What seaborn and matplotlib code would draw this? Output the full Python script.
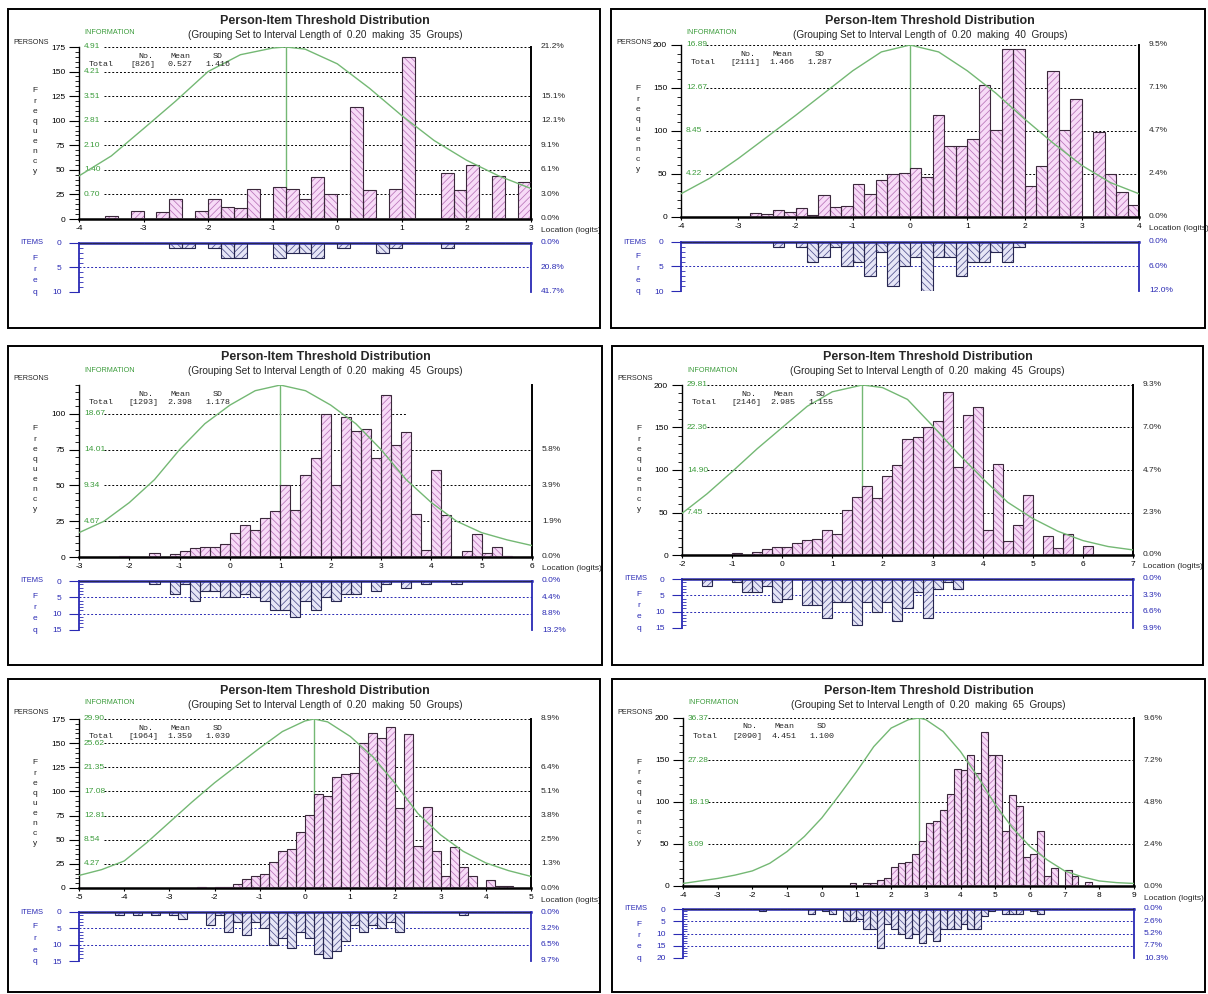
import numpy as np
import pandas as pd
import matplotlib
matplotlib.use("Agg")
import matplotlib.pyplot as plt
from matplotlib.patches import Rectangle
from matplotlib.ticker import MultipleLocator
import seaborn as sns

# ---------------------------------------------------------------- data
BIN_WIDTH = 0.20

# Panel 1
P1_START = -4.0
P1_PERSONS = [0, 0, 3, 0, 8, 0, 7, 20, 0, 8, 20, 12, 11, 31, 0, 33, 31, 20, 43, 25,
              0, 114, 30, 0, 31, 165, 0, 0, 47, 30, 55, 0, 44, 0, 38]
P1_ITEMS = [0, 0, 0, 0, 0, 0, 0, 1, 1, 0, 1, 3, 3, 0, 0, 3, 2, 2, 3, 0,
            1, 0, 0, 2, 1, 0, 0, 0, 1, 0, 0, 0, 0, 0, 0]
P1_INFO_X = [-4.0, -3.5, -3.0, -2.5, -2.0, -1.5, -1.0, -0.8, -0.5, 0.0, 0.5, 1.0, 1.5, 2.0, 2.5, 3.0]
P1_INFO = [1.23, 1.80, 2.58, 3.37, 4.21, 4.69, 4.88, 4.91, 4.85, 4.43, 3.73, 2.95, 2.24, 1.68, 1.23, 0.87]
P1_STATS = (826, "0.527", "1.416")
P1_COUNT_TICKS = [0, 25, 50, 75, 100, 125, 150, 175]
P1_INFO_TICKS = [0.70, 1.40, 2.10, 2.81, 3.51, 4.21, 4.91]
P1_PCT_TICKS = [0, 25, 50, 75, 100, 125, 175]
P1_ITEM_TICKS = [0, 5, 10]
P1_TOP = 175

# Panel 2
P2_START = -4.0
P2_PERSONS = [0, 0, 0, 0, 0, 0, 5, 3, 8, 6, 10, 2, 25, 12, 13, 38, 27, 43, 50, 51,
              57, 47, 119, 82, 82, 91, 154, 101, 195, 195, 36, 59, 170, 101, 137, 0, 99, 50, 29, 14]
P2_ITEMS = [0, 0, 0, 0, 0, 0, 0, 0, 1, 0, 1, 4, 3, 1, 5, 4, 7, 2, 9, 5,
            3, 10, 3, 3, 7, 4, 4, 2, 4, 1, 0, 0, 0, 0, 0, 0, 0, 0, 0, 0]
P2_INFO_X = [-4.0, -3.5, -3.0, -2.5, -2.0, -1.5, -1.0, -0.5, 0.0, 0.5, 1.0, 1.5, 2.0, 2.5, 3.0, 3.5, 4.0]
P2_INFO = [2.28, 3.80, 5.74, 7.85, 9.97, 12.16, 14.36, 16.21, 16.89, 16.21, 14.36, 12.16, 9.63, 7.26, 5.07, 3.38, 2.28]
P2_STATS = (2111, "1.466", "1.287")
P2_COUNT_TICKS = [0, 50, 100, 150, 200]
P2_INFO_TICKS = [4.22, 8.45, 12.67, 16.89]
P2_PCT_TICKS = [0, 50, 100, 150, 200]
P2_ITEM_TICKS = [0, 5, 10]
P2_TOP = 200

# Panel 3
P3_START = -3.0
P3_PERSONS = [0, 0, 0, 0, 1, 0, 0, 3, 0, 2, 4, 6, 7, 7, 9, 17, 22, 19, 27, 32,
              50, 33, 57, 69, 100, 50, 98, 88, 89, 69, 113, 78, 87, 30, 5, 61, 29, 0, 4, 16,
              3, 7, 1, 0, 0]
P3_ITEMS = [0, 0, 0, 0, 0, 0, 0, 1, 0, 4, 1, 6, 3, 3, 5, 5, 4, 5, 6, 9,
            9, 11, 6, 9, 5, 6, 4, 4, 0, 3, 1, 0, 2, 0, 1, 0, 0, 1, 0, 0,
            0, 0, 0, 0, 0]
P3_INFO_X = [-3.0, -2.5, -2.0, -1.5, -1.0, -0.5, 0.0, 0.5, 1.0, 1.5, 2.0, 2.5, 3.0, 3.5, 4.0, 4.5, 5.0, 5.5, 6.0]
P3_INFO = [3.17, 4.67, 7.09, 10.08, 14.00, 17.36, 19.79, 21.66, 22.40, 21.66, 19.79, 17.36, 14.00, 10.08, 7.09, 4.67, 3.17, 2.24, 1.49]
P3_STATS = (1293, "2.398", "1.178")
P3_COUNT_TICKS = [0, 25, 50, 75, 100]
P3_INFO_TICKS = [4.67, 9.34, 14.01, 18.67]
P3_PCT_TICKS = [0, 25, 50, 75]
P3_ITEM_TICKS = [0, 5, 10, 15]
P3_TOP = 120

# Panel 4
P4_START = -2.0
P4_PERSONS = [0, 0, 0, 0, 0, 2, 0, 3, 7, 10, 9, 14, 18, 19, 29, 25, 53, 68, 81, 67,
              93, 106, 136, 139, 150, 158, 192, 103, 165, 174, 30, 107, 16, 35, 71, 0, 22, 8, 25, 0,
              11, 0, 0, 0, 0]
P4_ITEMS = [0, 0, 2, 0, 0, 1, 4, 4, 2, 7, 6, 0, 8, 8, 12, 7, 7, 14, 7, 10,
            7, 13, 9, 4, 12, 3, 1, 3, 0, 0, 0, 0, 0, 0, 0, 0, 0, 0, 0, 0,
            0, 0, 0, 0, 0]
P4_INFO_X = [-2.0, -1.5, -1.0, -0.5, 0.0, 0.5, 1.0, 1.6, 2.0, 2.5, 3.0, 3.5, 4.0, 4.5, 5.0, 5.5, 6.0, 6.5, 7.0]
P4_INFO = [7.30, 10.73, 14.61, 18.63, 22.36, 26.08, 28.62, 29.81, 29.36, 27.28, 22.66, 17.89, 13.41, 9.24, 6.41, 4.17, 2.53, 1.49, 0.89]
P4_STATS = (2146, "2.985", "1.155")
P4_COUNT_TICKS = [0, 50, 100, 150, 200]
P4_INFO_TICKS = [7.45, 14.90, 22.36, 29.81]
P4_PCT_TICKS = [0, 50, 100, 150, 200]
P4_ITEM_TICKS = [0, 5, 10, 15]
P4_TOP = 200

# Panel 5
P5_START = -5.0
P5_PERSONS = [0, 0, 0, 0, 0, 0, 0, 0, 0, 0, 0, 0, 0, 1, 0, 1, 1, 4, 9, 12,
              14, 27, 38, 40, 58, 76, 97, 95, 115, 118, 119, 150, 160, 155, 167, 83, 159, 43, 84, 38,
              12, 42, 22, 12, 0, 8, 2, 2, 0, 0]
P5_ITEMS = [0, 0, 0, 0, 1, 0, 1, 0, 1, 0, 1, 2, 0, 0, 4, 1, 6, 3, 7, 3,
            5, 10, 8, 11, 6, 8, 13, 14, 12, 9, 4, 6, 4, 5, 3, 6, 0, 0, 0, 0,
            0, 0, 1, 0, 0, 0, 0, 0, 0, 0]
P5_INFO_X = [-5.0, -4.5, -4.0, -3.5, -3.0, -2.5, -2.0, -1.5, -1.0, -0.5, 0.0, 0.2, 0.5, 1.0, 1.5, 2.0, 2.5, 3.0, 3.5, 4.0, 4.5, 5.0]
P5_INFO = [2.22, 3.25, 4.78, 8.03, 11.62, 15.21, 18.62, 21.70, 24.77, 27.68, 29.56, 29.90, 29.39, 26.82, 23.24, 18.45, 13.16, 9.40, 6.49, 4.44, 3.08, 2.05]
P5_STATS = (1964, "1.359", "1.039")
P5_COUNT_TICKS = [0, 25, 50, 75, 100, 125, 150, 175]
P5_INFO_TICKS = [4.27, 8.54, 12.81, 17.08, 21.35, 25.62, 29.90]
P5_PCT_TICKS = [0, 25, 50, 75, 100, 125, 175]
P5_ITEM_TICKS = [0, 5, 10, 15]
P5_TOP = 175

# Panel 6
P6_START = -4.0
P6_PERSONS = [0] * 24 + [3, 0, 4, 3, 7, 10, 23, 27, 28, 38, 54, 75, 77, 91, 110, 139, 138, 156, 135, 183,
                         156, 156, 65, 108, 95, 35, 38, 65, 12, 22, 0, 19, 12, 0, 5] + [0] * 6
P6_ITEMS = [0] * 11 + [1, 0, 0, 0, 0, 0, 0, 2, 0, 1, 2, 0, 5, 5, 4, 8, 8, 16, 6,
                       8, 10, 12, 10, 14, 10, 13, 8, 8, 8, 6, 8, 8, 3, 1, 0, 2, 2, 2, 0,
                       1, 2] + [0] * 13
P6_INFO_X = [-4.0, -3.0, -2.5, -2.0, -1.5, -1.0, -0.5, 0.0, 0.5, 1.0, 1.5, 2.0, 2.5, 2.8, 3.0, 3.5, 4.0,
             4.5, 5.0, 5.5, 6.0, 6.5, 7.0, 7.5, 8.0, 8.5, 9.0]
P6_INFO = [0.55, 1.64, 2.36, 3.27, 4.91, 7.46, 10.73, 14.73, 19.64, 24.73, 30.19, 34.19, 36.01, 36.37, 36.01,
           33.46, 29.10, 23.64, 17.64, 12.55, 8.55, 5.64, 3.27, 2.00, 1.09, 0.73, 0.55]
P6_STATS = (2090, "4.451", "1.100")
P6_COUNT_TICKS = [0, 50, 100, 150, 200]
P6_INFO_TICKS = [9.09, 18.19, 27.28, 36.37]
P6_PCT_TICKS = [0, 50, 100, 150, 200]
P6_ITEM_TICKS = [0, 5, 10, 15, 20]
P6_TOP = 200

# gridlines that stop part-way across (count value -> logit where they end)
P1_SHORT_GRID = {150: 1.0}
P3_SHORT_GRID = {100: 3.5}
P5_SHORT_GRID = {150: 1.2}

# ---------------------------------------------------------------- layout (pixels)
W, H = 1208, 994
BOXES = [(8, 9, 592, 319), (611, 9, 594, 319), (8, 346, 594, 319),
         (612, 346, 591, 319), (8, 679, 592, 313), (612, 679, 593, 313)]
PLOT_X = [(79, 531), (681, 1139), (79, 532), (682, 1133), (79, 531), (683, 1134)]
PERSON_Y = [(47, 219), (45, 217), (385, 557), (385, 555), (719, 888), (718, 886)]
ITEM_Y = [(243, 292), (242, 291), (581, 630), (579, 628), (912, 961), (909, 958)]

GREEN_TEXT = "#3c9c3c"
GREEN_LINE = "#74b874"
BLUE = "#2a2ab4"
PERSON_FILL = "#f7dbf7"
PERSON_HATCH = "#b873b8"
PERSON_EDGE = "#3a283a"
ITEM_FILL = "#e6e6f6"
ITEM_HATCH = "#53538f"
ITEM_EDGE = "#26264f"

SANS = ["Liberation Sans Narrow", "Liberation Sans", "DejaVu Sans"]
MONO = ["Liberation Mono", "DejaVu Sans Mono"]

sns.set_theme(style="ticks")
plt.rcParams["font.family"] = SANS
plt.rcParams["hatch.linewidth"] = 0.55

PANELS = [
    dict(start=P1_START, persons=P1_PERSONS, items=P1_ITEMS, info_x=P1_INFO_X, info=P1_INFO,
         stats=P1_STATS, cticks=P1_COUNT_TICKS, iticks=P1_INFO_TICKS, pticks=P1_PCT_TICKS,
         qticks=P1_ITEM_TICKS, top=P1_TOP, short=P1_SHORT_GRID),
    dict(start=P2_START, persons=P2_PERSONS, items=P2_ITEMS, info_x=P2_INFO_X, info=P2_INFO,
         stats=P2_STATS, cticks=P2_COUNT_TICKS, iticks=P2_INFO_TICKS, pticks=P2_PCT_TICKS,
         qticks=P2_ITEM_TICKS, top=P2_TOP, short={}),
    dict(start=P3_START, persons=P3_PERSONS, items=P3_ITEMS, info_x=P3_INFO_X, info=P3_INFO,
         stats=P3_STATS, cticks=P3_COUNT_TICKS, iticks=P3_INFO_TICKS, pticks=P3_PCT_TICKS,
         qticks=P3_ITEM_TICKS, top=P3_TOP, short=P3_SHORT_GRID),
    dict(start=P4_START, persons=P4_PERSONS, items=P4_ITEMS, info_x=P4_INFO_X, info=P4_INFO,
         stats=P4_STATS, cticks=P4_COUNT_TICKS, iticks=P4_INFO_TICKS, pticks=P4_PCT_TICKS,
         qticks=P4_ITEM_TICKS, top=P4_TOP, short={}),
    dict(start=P5_START, persons=P5_PERSONS, items=P5_ITEMS, info_x=P5_INFO_X, info=P5_INFO,
         stats=P5_STATS, cticks=P5_COUNT_TICKS, iticks=P5_INFO_TICKS, pticks=P5_PCT_TICKS,
         qticks=P5_ITEM_TICKS, top=P5_TOP, short=P5_SHORT_GRID),
    dict(start=P6_START, persons=P6_PERSONS, items=P6_ITEMS, info_x=P6_INFO_X, info=P6_INFO,
         stats=P6_STATS, cticks=P6_COUNT_TICKS, iticks=P6_INFO_TICKS, pticks=P6_PCT_TICKS,
         qticks=P6_ITEM_TICKS, top=P6_TOP, short={}),
]


def fx(x):
    return x / W


def fy(y):
    return 1 - y / H


def axes_px(fig, x0, x1, ytop, ybot):
    return fig.add_axes([fx(x0), fy(ybot), (x1 - x0) / W, (ybot - ytop) / H])


def hatched_hist(ax, start, counts, fill, hatch_color, edge):
    n = len(counts)
    end = start + BIN_WIDTH * n
    df = pd.DataFrame({"location": start + BIN_WIDTH * (np.arange(n) + 0.5),
                       "count": np.asarray(counts, dtype=float)})
    k0 = len(ax.patches)
    sns.histplot(data=df, x="location", weights="count", bins=n, binrange=(start, end), ax=ax,
                 element="bars", fill=True, color=fill, alpha=1, linewidth=0, zorder=2)
    for i, patch in enumerate(ax.patches[k0:]):
        patch.set_facecolor(fill)
        patch.set_edgecolor(hatch_color)
        patch.set_linewidth(0)
        patch.set_hatch("/////" if i % 2 == 0 else "\\\\\\\\\\")
    sns.histplot(data=df, x="location", weights="count", bins=n, binrange=(start, end), ax=ax,
                 element="bars", fill=False, color=edge, linewidth=0.8, zorder=3)
    ax.set_xlabel("")
    ax.set_ylabel("")


fig = plt.figure(figsize=(W / 100, H / 100), dpi=100)
fig.patch.set_facecolor("white")

for p, box, (x0, x1), (ytop, ybot), (itop, ibot) in zip(PANELS, BOXES, PLOT_X, PERSON_Y, ITEM_Y):
    bx, by, bw, bh = box
    start = p["start"]
    end = start + BIN_WIDTH * len(p["persons"])
    top = p["top"]
    n_persons, mean_txt, sd_txt = p["stats"]
    n_items = int(sum(p["items"]))
    pw = x1 - x0
    ph = ybot - ytop

    # frame
    fig.add_artist(Rectangle((fx(bx), fy(by + bh)), bw / W, bh / H, transform=fig.transFigure,
                             fill=False, lw=1.4, ec="black"))

    # titles and captions
    cx = (x0 + x1) / 2 + 20
    fig.text(fx(cx), fy(by + 11.5), "Person-Item Threshold Distribution", ha="center", va="center",
             fontsize=9, fontweight="bold")
    fig.text(fx(cx), fy(by + 25.5),
             f"(Grouping Set to Interval Length of  {BIN_WIDTH:.2f}  making  {len(p['persons'])}  Groups)",
             ha="center", va="center", fontsize=7.2)
    fig.text(fx(bx + 5), fy(by + 33), "PERSONS", ha="left", va="center", fontsize=5.2)
    fig.text(fx(x0 + 5), fy(by + 24), "INFORMATION", ha="left", va="center", fontsize=5.2, color=GREEN_TEXT)
    for k, ch in enumerate("Frequency"):
        fig.text(fx(bx + 27), fy(ytop + 44 + k * 10.1), ch, ha="center", va="center", fontsize=6)
    fig.text(fx(bx + 12), fy(itop), "ITEMS", ha="left", va="center", fontsize=5.4, color=BLUE)
    for k, ch in enumerate("Freq"):
        fig.text(fx(bx + 27), fy(itop + 15 + k * 11.5), ch, ha="center", va="center", fontsize=6, color=BLUE)

    # ---------------- person distribution
    ax = axes_px(fig, x0, x1, ytop, ybot)
    ax.set_facecolor("none")
    hatched_hist(ax, start, p["persons"], PERSON_FILL, PERSON_HATCH, PERSON_EDGE)
    ax.set_xlim(start, end)
    ax.set_ylim(0, top)
    ax.spines["top"].set_visible(False)
    ax.spines["left"].set_linewidth(1.0)
    ax.spines["bottom"].set_linewidth(1.8)
    ax.spines["right"].set_linewidth(1.4)
    for s in ("left", "bottom", "right"):
        ax.spines[s].set_color("black")
    xt = np.arange(int(np.ceil(start)), int(np.floor(end)) + 1)
    ax.set_xticks(xt)
    ax.set_xticklabels([str(int(t)) for t in xt])
    ax.set_yticks(p["cticks"])
    ax.set_yticklabels([str(t) for t in p["cticks"]])
    step = p["cticks"][1] - p["cticks"][0]
    ax.yaxis.set_minor_locator(MultipleLocator(step / 5))
    ax.tick_params(axis="y", which="major", direction="out", length=7.5, width=0.8, pad=2.5,
                   labelsize=6, left=True, right=False, colors="black")
    ax.tick_params(axis="y", which="minor", direction="out", length=3, width=0.6, left=True, right=False,
                   colors="black")
    ax.tick_params(axis="x", which="major", direction="out", length=2.5, width=0.8, pad=2,
                   labelsize=6, bottom=True, colors="black")
    ax.tick_params(axis="x", which="minor", bottom=False)
    ax.grid(False)

    ytr = ax.get_yaxis_transform()
    g0 = 25 / pw
    for c, lab in zip(p["cticks"][1:], p["iticks"]):
        g1 = (p["short"][c] - start) / (end - start) if c in p["short"] else 1.0
        ax.plot([g0, g1], [c, c], transform=ytr, ls=(0, (2, 2)), lw=0.7, color="black",
                zorder=0.5, clip_on=False)
        ax.text(5 / pw, c, f"{lab:.2f}", transform=ytr, ha="left", va="center", fontsize=6,
                color=GREEN_TEXT, zorder=5)
    for c in p["pticks"]:
        ax.text(1 + 10 / pw, c, f"{100 * c / n_persons:.1f}%", transform=ytr, ha="left",
                va="center", fontsize=6, clip_on=False)
    ax.text(1 + 10 / pw, -12 / ph, "Location (logits)", transform=ax.transAxes, ha="left",
            va="center", fontsize=6)

    # information function
    info_top = top * p["iticks"][-1] / p["cticks"][-1]
    peak_x = p["info_x"][int(np.argmax(p["info"]))]
    ax.axvline(peak_x, color=GREEN_LINE, lw=1.0, zorder=1)
    axc = ax.twinx()
    sns.lineplot(x=p["info_x"], y=p["info"], ax=axc, color=GREEN_LINE, linewidth=1.0)
    axc.set_xlim(start, end)
    axc.set_ylim(0, info_top)
    axc.axis("off")

    # summary statistics
    fig.text(fx(x0 + 67), fy(ytop + 9), "No.", ha="center", va="center", fontsize=6, family=MONO)
    fig.text(fx(x0 + 101.5), fy(ytop + 9), "Mean", ha="center", va="center", fontsize=6, family=MONO)
    fig.text(fx(x0 + 139), fy(ytop + 9), "SD", ha="center", va="center", fontsize=6, family=MONO)
    fig.text(fx(x0 + 22), fy(ytop + 18), "Total", ha="center", va="center", fontsize=6, family=MONO)
    fig.text(fx(x0 + 64), fy(ytop + 18), f"[{n_persons}]", ha="center", va="center", fontsize=6, family=MONO)
    fig.text(fx(x0 + 101), fy(ytop + 18), mean_txt, ha="center", va="center", fontsize=6, family=MONO)
    fig.text(fx(x0 + 139), fy(ytop + 18), sd_txt, ha="center", va="center", fontsize=6, family=MONO)

    # ---------------- item threshold distribution (hanging bars)
    axi = axes_px(fig, x0, x1, itop, ibot)
    axi.set_facecolor("none")
    hatched_hist(axi, start, p["items"], ITEM_FILL, ITEM_HATCH, ITEM_EDGE)
    qmax = p["qticks"][-1]
    axi.set_xlim(start, end)
    axi.set_ylim(qmax, 0)
    axi.spines["bottom"].set_visible(False)
    axi.spines["top"].set_linewidth(1.8)
    axi.spines["left"].set_linewidth(1.3)
    axi.spines["right"].set_linewidth(1.3)
    for s in ("top", "left", "right"):
        axi.spines[s].set_color(BLUE)
    axi.set_xticks([])
    axi.set_yticks(p["qticks"])
    axi.set_yticklabels([str(t) for t in p["qticks"]])
    axi.yaxis.set_minor_locator(MultipleLocator(1))
    axi.tick_params(axis="y", which="major", direction="out", length=7.5, width=0.8, pad=5,
                    labelsize=6, left=True, right=False, color=BLUE, labelcolor=BLUE)
    axi.tick_params(axis="y", which="minor", direction="in", length=3, width=0.6, left=True,
                    right=False, color=BLUE)
    axi.tick_params(axis="x", which="both", bottom=False, top=False)
    axi.grid(False)
    qtr = axi.get_yaxis_transform()
    for q in p["qticks"][1:]:
        axi.plot([0, 1], [q, q], transform=qtr, ls=(0, (2, 2)), lw=0.7, color=BLUE, zorder=0.5)
    for q in p["qticks"]:
        axi.text(1 + 10 / pw, q, f"{100 * q / n_items:.1f}%", transform=qtr, ha="left",
                 va="center", fontsize=6, color=BLUE, clip_on=False)

fig.savefig("out.png", dpi=100, facecolor="white")
